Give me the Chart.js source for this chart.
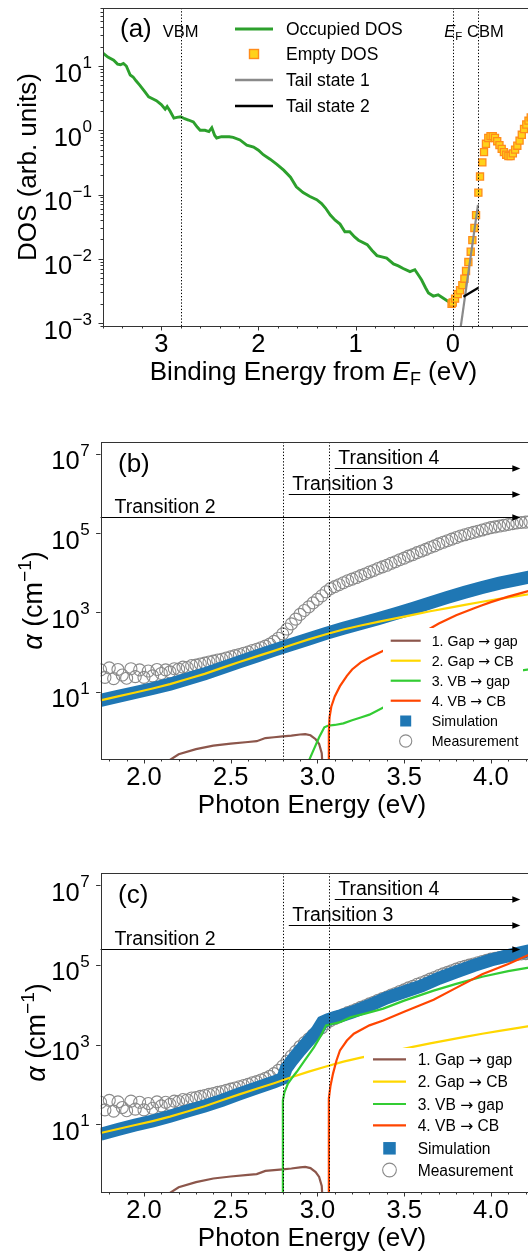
<!DOCTYPE html>
<html><head><meta charset="utf-8">
<script src="https://cdn.jsdelivr.net/npm/chart.js@4.4.1/dist/chart.umd.min.js"></script>
<style>
html,body{margin:0;padding:0;background:#fff;width:528px;height:1253px;overflow:hidden;position:relative}
canvas{position:absolute;left:0}
</style></head><body>
<canvas id="ca" width="560" height="410" style="top:0px"></canvas>
<canvas id="cb" width="560" height="410" style="top:420px"></canvas>
<canvas id="cc" width="560" height="413" style="top:840px"></canvas>
<script>
// ===================== Panel (a) data =====================
const occE = [3.60,3.55,3.49,3.45,3.42,3.39,3.36,3.32,3.29,3.26,3.22,3.17,3.13,3.09,3.05,3.00,2.96,2.94,2.91,2.87,2.84,2.80,2.76,2.72,2.67,2.63,2.60,2.55,2.51,2.48,2.45,2.43,2.38,2.30,2.26,2.19,2.12,2.05,2.00,1.95,1.88,1.81,1.74,1.67,1.61,1.54,1.47,1.40,1.35,1.31,1.26,1.21,1.16,1.11,1.06,1.01,0.97,0.88,0.83,0.78,0.73,0.68,0.61,0.56,0.51,0.44,0.39,0.35,0.32,0.28,0.25,0.20,0.15,0.10,0.05,0.00];
const occLog10 = [1.20,1.14,1.09,1.03,1.02,1.04,1.00,0.86,0.83,0.77,0.70,0.60,0.52,0.49,0.46,0.40,0.33,0.37,0.30,0.19,0.20,0.21,0.18,0.16,0.13,0.05,0.00,0.00,-0.02,0.04,-0.08,-0.12,-0.10,-0.10,-0.11,-0.15,-0.23,-0.26,-0.31,-0.38,-0.45,-0.53,-0.62,-0.73,-0.88,-0.97,-1.03,-1.08,-1.14,-1.21,-1.32,-1.40,-1.46,-1.58,-1.58,-1.66,-1.71,-1.78,-1.87,-1.95,-1.97,-1.99,-2.08,-2.11,-2.15,-2.20,-2.17,-2.26,-2.33,-2.45,-2.53,-2.58,-2.56,-2.61,-2.66,-2.65];
const emptyE = [0.012,0,-0.024,-0.051,-0.075,-0.099,-0.120,-0.137,-0.161,-0.185,-0.202,-0.223,-0.240,-0.264,-0.281,-0.305,-0.322,-0.342,-0.366,-0.389,-0.412,-0.435,-0.458,-0.481,-0.504,-0.527,-0.550,-0.573,-0.596,-0.619,-0.642,-0.665,-0.688,-0.711,-0.734,-0.757,-0.780,-0.803];
const emptyLog10 = [-2.70,-2.68,-2.62,-2.55,-2.49,-2.41,-2.31,-2.19,-2.05,-1.89,-1.71,-1.52,-1.32,-0.97,-0.72,-0.50,-0.34,-0.21,-0.12,-0.09,-0.09,-0.12,-0.17,-0.23,-0.29,-0.34,-0.38,-0.40,-0.40,-0.36,-0.30,-0.24,-0.16,-0.07,0.02,0.09,0.15,0.20];
const tail1E = [-0.07,-0.26];
const tail1Log10 = [-3.19,-1.16];
const tail2E = [-0.11,-0.264];
const tail2Log10 = [-2.59,-2.45];
const aVlineE = [2.8, 0, -0.26];
const aTicksX = [3,2,1,0];
const aTicksYExp = [1,0,-1,-2,-3];
const aLegend = ['Occupied DOS','Empty DOS','Tail state 1','Tail state 2'];

// ===================== Panels (b), (c) data =====================
const measE = [1.750,1.775,1.800,1.825,1.850,1.875,1.900,1.925,1.950,1.975,2.000,2.025,2.050,2.075,2.100,2.125,2.150,2.175,2.200,2.225,2.250,2.275,2.300,2.325,2.350,2.375,2.400,2.425,2.450,2.475,2.500,2.525,2.550,2.575,2.600,2.625,2.650,2.675,2.700,2.725,2.750,2.775,2.800,2.825,2.850,2.875,2.900,2.925,2.950,2.975,3.000,3.025,3.050,3.075,3.100,3.125,3.150,3.175,3.200,3.225,3.250,3.275,3.300,3.325,3.350,3.375,3.400,3.425,3.450,3.475,3.500,3.525,3.550,3.575,3.600,3.625,3.650,3.675,3.700,3.725,3.750,3.775,3.800,3.825,3.850,3.875,3.900,3.925,3.950,3.975,4.000,4.025,4.050,4.075,4.100,4.125,4.150,4.175,4.200,4.225];
const measLog10 = [1.55,1.36,1.60,1.33,1.56,1.42,1.34,1.58,1.38,1.55,1.36,1.52,1.40,1.56,1.46,1.55,1.50,1.58,1.57,1.62,1.61,1.66,1.67,1.70,1.72,1.75,1.77,1.80,1.82,1.85,1.88,1.91,1.94,1.97,2.00,2.04,2.07,2.11,2.15,2.20,2.27,2.35,2.46,2.58,2.71,2.83,2.95,3.05,3.14,3.24,3.33,3.42,3.52,3.60,3.65,3.70,3.75,3.80,3.84,3.88,3.93,3.97,4.02,4.06,4.11,4.15,4.19,4.24,4.28,4.33,4.37,4.42,4.46,4.51,4.55,4.59,4.64,4.68,4.73,4.77,4.81,4.85,4.89,4.93,4.96,4.99,5.02,5.05,5.08,5.11,5.14,5.16,5.18,5.20,5.22,5.24,5.26,5.27,5.28,5.29];
const simBE = [1.75,1.85,1.95,2.05,2.15,2.25,2.35,2.45,2.55,2.65,2.75,2.85,2.95,3.05,3.15,3.25,3.35,3.45,3.55,3.65,3.75,3.85,3.95,4.05,4.15,4.25];
const simBLog10 = [0.78,0.88,0.98,1.08,1.19,1.32,1.45,1.60,1.75,1.90,2.05,2.19,2.33,2.47,2.60,2.72,2.84,2.97,3.10,3.24,3.38,3.51,3.63,3.74,3.83,3.92];
const gapCBE = [1.75,1.85,1.95,2.05,2.15,2.25,2.35,2.45,2.55,2.65,2.75,2.85,2.95,3.05,3.15,3.25,3.35,3.45,3.55,3.65,3.75,3.85,3.95,4.05,4.15,4.25];
const gapCBLog10 = [0.78,0.88,0.98,1.08,1.19,1.32,1.45,1.60,1.75,1.89,2.03,2.18,2.32,2.45,2.57,2.67,2.76,2.85,2.94,3.03,3.11,3.19,3.27,3.34,3.41,3.48];
const gapGapE = [2.14,2.20,2.30,2.40,2.50,2.60,2.65,2.70,2.75,2.80,2.85,2.90,2.93,2.96,2.99,3.01,3.025,3.03];
const gapGapLog10 = [-0.75,-0.58,-0.45,-0.36,-0.31,-0.27,-0.25,-0.17,-0.15,-0.13,-0.11,-0.08,-0.07,-0.10,-0.20,-0.32,-0.55,-0.90];
const vbGapBE = [2.95,2.98,3.01,3.04,3.06,3.10,3.15,3.20,3.25,3.30,3.38,3.45,3.55,3.65,3.75,3.85,3.95,4.05,4.15,4.25];
const vbGapBLog10 = [-0.75,-0.45,-0.15,0.10,0.14,0.16,0.20,0.28,0.35,0.42,0.60,0.72,0.88,1.02,1.15,1.27,1.37,1.45,1.52,1.58];
const vbCBBE = [3.063,3.066,3.07,3.08,3.10,3.13,3.17,3.20,3.25,3.30,3.38,3.50,3.60,3.70,3.80,3.90,3.95,4.00,4.10,4.20,4.25];
const vbCBBLog10 = [-0.8,0.0,0.35,0.62,0.88,1.14,1.40,1.56,1.74,1.86,2.03,2.25,2.47,2.72,2.93,3.10,3.18,3.26,3.40,3.52,3.58];
const simCE = [1.75,1.85,1.95,2.05,2.15,2.25,2.35,2.45,2.55,2.65,2.75,2.80,2.82,2.85,2.90,2.95,3.00,3.03,3.06,3.10,3.15,3.20,3.30,3.40,3.50,3.60,3.70,3.80,3.90,4.00,4.10,4.20,4.25];
const simCLog10 = [0.75,0.87,0.98,1.08,1.20,1.33,1.46,1.60,1.76,1.91,2.06,2.15,2.40,2.58,2.85,3.10,3.35,3.56,3.62,3.68,3.74,3.81,3.98,4.17,4.32,4.47,4.66,4.82,4.98,5.12,5.23,5.33,5.37];
const vbGapCE = [2.80,2.801,2.81,2.83,2.86,2.88,2.93,2.98,3.02,3.05,3.09,3.13,3.19,3.28,3.38,3.50,3.67,3.80,3.95,4.10,4.21,4.25];
const vbGapCLog10 = [-0.8,1.6,1.8,2.02,2.2,2.31,2.62,2.93,3.22,3.48,3.52,3.56,3.68,3.78,3.90,4.10,4.35,4.52,4.70,4.84,4.92,4.95];
const vbCBCE = [3.065,3.066,3.075,3.09,3.11,3.13,3.17,3.21,3.30,3.38,3.50,3.67,3.80,3.95,4.10,4.21,4.25];
const vbCBCLog10 = [-0.8,1.65,1.95,2.27,2.6,2.85,3.10,3.27,3.48,3.60,3.82,4.12,4.42,4.76,5.02,5.23,5.30];
const bcVlineE = [2.8, 3.065];
const bcTicksX = ['2.0','2.5','3.0','3.5','4.0'];
const bcTicksYExp = [1,3,5,7];
const trLabels = ['Transition 2','Transition 3','Transition 4'];
const trStartE = [1.75, 2.835, 3.10];
const trLabelE = [1.83, 2.855, 3.12];
const trAlpha = [2.5e5, 1.0e6, 4.5e6];
const trEndE = 4.17;
const bcLegendNum = ['1. Gap','2. Gap','3. VB','4. VB'];
const bcLegendTo = ['gap','CB','gap','CB'];
const bcLegendMarks = ['Simulation','Measurement'];

// ===================== colours =====================
const C_OCC='#2ca02c', C_EMPTY_F='#ffd21a', C_EMPTY_E='#ff8c1a', C_T1='#8a8a8a', C_T2='#000000';
const C_SIM='#1f77b4', C_MEAS='#8a8a8a', C_GG='#8c564b', C_GCB='#ffd700', C_VG='#33cc33', C_VC='#ff4500';
const FONT='"Liberation Sans", Arial, Helvetica, sans-serif';
const F=(px,st)=>(st?st+' ':'')+px+'px '+FONT;
const FD=(px)=>px+'px "DejaVu Sans", sans-serif';

function pts(xs, logs){ return xs.map((x,i)=>({x:x, y:Math.pow(10, logs[i])})); }
function lineDS(xs, logs, color, w, order){
  return {data:pts(xs,logs), showLine:true, borderColor:color, borderWidth:w, pointRadius:0, fill:false, order:order, clip:0, tension:0};
}

function rich(ctx, segs, x, y, align){
  let w=0; segs.forEach(s=>{ctx.font=s.f; s.w=ctx.measureText(s.t).width; w+=s.w;});
  let cx = align==='center'? x-w/2 : (align==='right'? x-w : x);
  ctx.textAlign='left'; ctx.textBaseline='alphabetic'; ctx.fillStyle='#000';
  segs.forEach(s=>{ctx.font=s.f; ctx.fillText(s.t, cx, y+(s.dy||0)); cx+=s.w;});
}
function txt(ctx, s, x, y, font, align){
  ctx.font=font; ctx.textAlign=align||'left'; ctx.textBaseline='alphabetic'; ctx.fillStyle='#000'; ctx.fillText(s,x,y);
}
function frame(ctx,a){
  ctx.save(); ctx.setLineDash([]); ctx.strokeStyle='#333'; ctx.lineWidth=1;
  ctx.strokeRect(Math.round(a.left)+0.5, Math.round(a.top)+0.5, Math.round(a.right-a.left), Math.round(a.bottom-a.top));
  ctx.restore();
}
function tickX(ctx,a,px,len){ ctx.beginPath(); const x=Math.round(px)+0.5; ctx.moveTo(x,a.bottom); ctx.lineTo(x,a.bottom+len); ctx.stroke(); }
function tickY(ctx,a,py,len){ ctx.beginPath(); const y=Math.round(py)+0.5; ctx.moveTo(a.left,y); ctx.lineTo(a.left-len,y); ctx.stroke(); }
function vline(ctx,a,px){
  ctx.save(); ctx.strokeStyle='#000'; ctx.lineWidth=1; ctx.setLineDash([1.3,1.9]);
  const x=Math.round(px)+0.5; ctx.beginPath(); ctx.moveTo(x,a.top); ctx.lineTo(x,a.bottom); ctx.stroke(); ctx.restore();
}
function yLabelLog(ctx,a,py,e){
  const ex = e<0 ? '\u2212'+Math.abs(e) : String(e);
  ctx.font=F(17); const we=ctx.measureText(ex).width;
  const right=a.left-11;
  txt(ctx, ex, right, py+2, F(17), 'right');
  txt(ctx, '10', right-we-0.5, py+15.5, F(25.5), 'right');
}
function rotTitle(ctx, segs, bx, cy){
  ctx.save(); ctx.translate(bx, cy); ctx.rotate(-Math.PI/2); rich(ctx, segs, 0, 0, 'center'); ctx.restore();
}
function arrow(ctx, x0, x1, y){
  ctx.save(); ctx.strokeStyle='#000'; ctx.fillStyle='#000'; ctx.lineWidth=1; ctx.setLineDash([]);
  const yy=Math.round(y)+0.5;
  ctx.beginPath(); ctx.moveTo(x0,yy); ctx.lineTo(x1-6,yy); ctx.stroke();
  ctx.beginPath(); ctx.moveTo(x1,yy); ctx.lineTo(x1-8,yy-3.2); ctx.lineTo(x1-8,yy+3.2); ctx.closePath(); ctx.fill();
  ctx.restore();
}

function baseOptions(xmin,xmax,rev,ymin,ymax,pad,yW,xH){
  return {
    responsive:false, animation:false, devicePixelRatio:1, events:[],
    layout:{padding:pad},
    plugins:{legend:{display:false}, tooltip:{enabled:false}},
    scales:{
      x:{type:'linear', min:xmin, max:xmax, reverse:rev, ticks:{display:false}, grid:{display:false}, border:{display:false}, afterFit:(s)=>{s.height=xH;}},
      y:{type:'logarithmic', min:ymin, max:ymax, ticks:{display:false}, grid:{display:false}, border:{display:false}, afterFit:(s)=>{s.width=yW;}}
    }
  };
}

// ===================== Panel (a) =====================
const decoA = {id:'decoA', afterDraw(chart){
  const ctx=chart.ctx, a=chart.chartArea, xs=chart.scales.x, ys=chart.scales.y;
  aVlineE.forEach(v=>vline(ctx,a,xs.getPixelForValue(v)));
  frame(ctx,a);
  ctx.save(); ctx.strokeStyle='#333'; ctx.lineWidth=1;
  for(let i=-3;i<=18;i++){ const v=i*0.2; if(v<xs.min-1e-9||v>xs.max+1e-9) continue; const major=(i%5===0); tickX(ctx,a,xs.getPixelForValue(v), major?4.5:2.5); }
  for(let d=-4; d<=1; d++){ for(let k=1;k<=9;k++){ const v=k*Math.pow(10,d); if(v<ys.min||v>ys.max) continue; tickY(ctx,a,ys.getPixelForValue(v), k===1?4.5:2.5);} }
  ctx.restore();
  aTicksX.forEach(v=>txt(ctx, String(v), xs.getPixelForValue(v), a.bottom+26, F(25.5), 'center'));
  aTicksYExp.forEach(e=>yLabelLog(ctx,a,ys.getPixelForValue(Math.pow(10,e)),e));
  rich(ctx,[{t:'Binding Energy from ',f:F(26)},{t:'E',f:F(26,'italic')},{t:'F',f:F(18),dy:5},{t:' (eV)',f:F(26)}], 313.5, a.bottom+54, 'center');
  rotTitle(ctx,[{t:'DOS (arb. units)',f:F(26)}], 36, (a.top+a.bottom)/2);
  txt(ctx,'(a)',120,37,F(26));
  txt(ctx,'VBM',xs.getPixelForValue(aVlineE[0]),37,F(16.5),'center');
  const xe=xs.getPixelForValue(aVlineE[1]);
  rich(ctx,[{t:'E',f:F(16.5,'italic')},{t:'F',f:F(11.5),dy:3}], xe+0.5, 37, 'center');
  txt(ctx,'CBM',xs.getPixelForValue(aVlineE[2])-11,37,F(16.5),'left');
  const rows=[29,54,80,106];
  ctx.save(); ctx.setLineDash([]);
  ctx.strokeStyle=C_OCC; ctx.lineWidth=3; ctx.beginPath(); ctx.moveTo(235,rows[0]); ctx.lineTo(273,rows[0]); ctx.stroke();
  ctx.fillStyle=C_EMPTY_F; ctx.strokeStyle=C_EMPTY_E; ctx.lineWidth=1.4; ctx.fillRect(249.5,rows[1]-4.5,9,9); ctx.strokeRect(249.5,rows[1]-4.5,9,9);
  ctx.strokeStyle=C_T1; ctx.lineWidth=2.5; ctx.beginPath(); ctx.moveTo(235,rows[2]); ctx.lineTo(273,rows[2]); ctx.stroke();
  ctx.strokeStyle=C_T2; ctx.lineWidth=2.5; ctx.beginPath(); ctx.moveTo(235,rows[3]); ctx.lineTo(273,rows[3]); ctx.stroke();
  ctx.restore();
  aLegend.forEach((s,i)=>txt(ctx,s,286,rows[i]+6.3,F(17.5)));
}};

new Chart(document.getElementById('ca'), {
  type:'scatter',
  data:{datasets:[
    lineDS(tail2E,tail2Log10,C_T2,2.2,1),
    lineDS(tail1E,tail1Log10,C_T1,2.2,2),
    {data:pts(emptyE,emptyLog10), showLine:false, pointStyle:'rect', pointRadius:5, backgroundColor:C_EMPTY_F, borderColor:C_EMPTY_E, borderWidth:1.3, order:3, clip:0},
    lineDS(occE,occLog10,C_OCC,2.9,4)
  ]},
  options: baseOptions(-0.78, 3.6, true, 9.0e-4, 80, {left:0,top:8,right:31.5,bottom:0}, 103, 84),
  plugins:[decoA]
});

// ===================== Panels (b), (c) =====================
function makeDeco(id, label, legRows, legFont, legLineX, legTextX, legBox, markSize, yTitleX){
  return {id:id, afterDraw(chart){
    const ctx=chart.ctx, a=chart.chartArea, xs=chart.scales.x, ys=chart.scales.y;
    bcVlineE.forEach(v=>vline(ctx,a,xs.getPixelForValue(v)));
    trLabels.forEach((s,i)=>{
      const y=ys.getPixelForValue(trAlpha[i]);
      arrow(ctx, xs.getPixelForValue(trStartE[i]), xs.getPixelForValue(trEndE), y);
      txt(ctx, s, xs.getPixelForValue(trLabelE[i]), y-4, F(19.5));
    });
    ctx.save(); ctx.fillStyle='#fff'; ctx.fillRect(legBox[0],legBox[1],legBox[2]-legBox[0],legBox[3]-legBox[1]);
    const cols=[C_GG,C_GCB,C_VG,C_VC];
    cols.forEach((c,i)=>{ ctx.strokeStyle=c; ctx.lineWidth=2.2; ctx.setLineDash([]); ctx.beginPath(); ctx.moveTo(legLineX[0],legRows[i]); ctx.lineTo(legLineX[1],legRows[i]); ctx.stroke(); });
    const mx=(legLineX[0]+legLineX[1])/2;
    ctx.fillStyle=C_SIM; ctx.fillRect(mx-markSize/2, legRows[4]-markSize/2, markSize, markSize);
    ctx.strokeStyle=C_MEAS; ctx.lineWidth=1.1; ctx.beginPath(); ctx.arc(mx, legRows[5], markSize/2+0.6, 0, Math.PI*2); ctx.stroke();
    ctx.restore();
    const bl=legFont*0.358;
    bcLegendNum.forEach((s,i)=>rich(ctx,[{t:s+' ',f:F(legFont)},{t:'\u2192',f:FD(legFont)},{t:' '+bcLegendTo[i],f:F(legFont)}],legTextX,legRows[i]+bl,'left'));
    bcLegendMarks.forEach((s,i)=>txt(ctx,s,legTextX,legRows[4+i]+bl,F(legFont)));
    frame(ctx,a);
    ctx.save(); ctx.strokeStyle='#333'; ctx.lineWidth=1;
    for(let i=18;i<=42;i++){ const v=i/10; if(v<xs.min-1e-9||v>xs.max+1e-9) continue; tickX(ctx,a,xs.getPixelForValue(v), (i%5===0)?4.5:2.5); }
    bcTicksYExp.forEach(e=>tickY(ctx,a,ys.getPixelForValue(Math.pow(10,e)),4.5));
    ctx.restore();
    bcTicksX.forEach(s=>txt(ctx, s, xs.getPixelForValue(parseFloat(s)), a.bottom+26, F(25.5), 'center'));
    bcTicksYExp.forEach(e=>yLabelLog(ctx,a,ys.getPixelForValue(Math.pow(10,e)),e));
    txt(ctx,'Photon Energy (eV)',312,a.bottom+54,F(26),'center');
    rotTitle(ctx,[{t:'\u03b1',f:F(27,'italic')},{t:' (cm',f:F(27)},{t:'\u22121',f:F(19),dy:-11},{t:')',f:F(27)}], yTitleX, (a.top+a.bottom)/2);
    txt(ctx,label,118,a.top+30,F(26));
  }};
}

function bcDatasets(simE, simLog, vgE, vgLog, vcE, vcLog){
  return [
    lineDS(vcE,vcLog,C_VC,2.2,1),
    lineDS(vgE,vgLog,C_VG,2.2,2),
    lineDS(gapCBE,gapCBLog10,C_GCB,2.2,3),
    lineDS(gapGapE,gapGapLog10,C_GG,2.2,4),
    {data:pts(simE,simLog), showLine:true, borderColor:C_SIM, borderWidth:13, borderJoinStyle:'miter', borderCapStyle:'butt', pointRadius:0, order:8, clip:0, tension:0},
    {data:pts(measE,measLog10), showLine:false, pointStyle:'circle', pointRadius:6, backgroundColor:'rgba(0,0,0,0)', borderColor:C_MEAS, borderWidth:1.1, order:9, clip:0}
  ];
}

new Chart(document.getElementById('cb'), {
  type:'scatter',
  data:{datasets:bcDatasets(simBE,simBLog10,vbGapBE,vbGapBLog10,vbCBBE,vbCBBLog10)},
  options: baseOptions(1.75, 4.22, false, 0.2, 2e7, {left:0,top:22,right:31,bottom:0}, 100.6, 71),
  plugins:[makeDeco('decoB','(b)',[220.7,240.7,260.7,280.7,301,321],14.2,[390.7,420.7],431.7,[383,208,523,334],11,42)]
});

new Chart(document.getElementById('cc'), {
  type:'scatter',
  data:{datasets:bcDatasets(simCE,simCLog10,vbGapCE,vbGapCLog10,vbCBCE,vbCBCLog10)},
  options: baseOptions(1.75, 4.22, false, 0.2, 2e7, {left:0,top:33,right:31,bottom:0}, 100.6, 61),
  plugins:[makeDeco('decoC','(c)',[219.3,241.7,264,285.3,308.3,330],15.6,[373,406],417.7,[364,208,523,346],12.5,44.5)]
});
</script>
</body></html>
